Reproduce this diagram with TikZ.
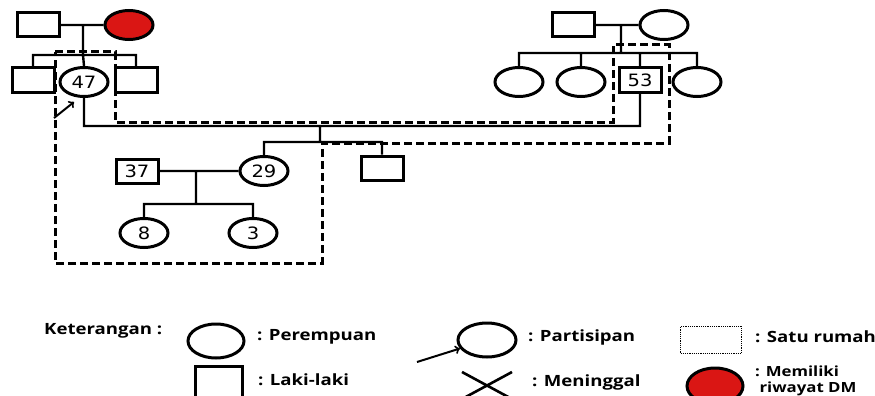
\documentclass[tikz,border=0pt]{standalone}
\usepackage{fontspec}
\newfontfamily\numfont[FakeStretch=1.15]{DejaVu Sans}
\newfontfamily\legfont[FakeStretch=1.2]{Open Sans}
\usepackage{tikz}
\usetikzlibrary{arrows,shapes.geometric}
\definecolor{dmred}{RGB}{218,22,20}

\begin{document}
\begin{tikzpicture}[x=1pt,y=-1pt]
 \tikzstyle{every node}=[font=\numfont\fontsize{17}{17}\selectfont,inner sep=0pt]
 \tikzstyle{man}=[draw,line width=3pt,rectangle,minimum width=42pt,minimum height=24pt]
 \tikzstyle{woman}=[draw,line width=3pt,ellipse,minimum width=48pt,minimum height=29pt]
 \tikzstyle{dm}=[woman,fill=dmred]
 \tikzstyle{line}=[draw,line width=2.4pt]
 \tikzstyle{house}=[draw,line width=3pt,dash pattern=on 8pt off 4pt]
 \tikzstyle{legend}=[font=\legfont\bfseries\fontsize{15.5}{17}\selectfont,anchor=west,align=left]
 \useasboundingbox[fill=white] (0,0) rectangle (875,396);
 % left grandparents
 \node[man]   (gf1) at (38,25)  {};
 \node[dm]    (gm1) at (129,25) {};
 \coordinate  (k1)  at (83,25);
 \coordinate  (s1)  at (83,55);
 \node[man]   (u1)  at (33,80)  {};
 \node[woman] (p47) at (84,82)  {47};
 \node[man]   (u2)  at (136,80) {};
 % right grandparents
 \node[man]   (gf2) at (573,25) {};
 \node[woman] (gm2) at (664,25) {};
 \coordinate  (k2)  at (621,25);
 \coordinate  (s2)  at (621,53);
 \node[woman] (t1)  at (519,82)  {};
 \node[woman] (t2)  at (581,82)  {};
 \node[man]   (p53) at (640,80)  {53};
 \node[woman] (t4)  at (697,82)  {};
 % children and grandchildren
 \coordinate  (cp)  at (320,126);
 \coordinate  (cc)  at (320,142);
 \node[woman] (p29) at (264,171) {29};
 \node[man]   (son) at (382,168) {};
 \node[man]   (h37) at (137,171) {37};
 \coordinate  (k3)  at (196,171);
 \coordinate  (s3)  at (196,204);
 \node[woman] (g8)  at (144,233) {8};
 \node[woman] (g3)  at (253,233) {3};
 \coordinate  (a1)  at (54,118);
 \coordinate  (a1h) at (74,102);

 \path[line]
 (gf1) -- (gm1)
 (k1) -- (s1)
 (u1.north) |- (s1) -| (u2.north)
 (p47.north) -- (s1)
 (gf2) -- (gm2)
 (k2) -- (s2)
 (t1.north) |- (s2) -| (t4.north)
 (t2.north) -- (t2.north |- s2)
 (p53.north) -- (p53.north |- s2)
 (p47.south) |- (cp) -| (p53.south)
 (cp) -- (cc)
 (p29.north) |- (cc) -| (son.north)
 (h37) -- (p29)
 (k3) -- (s3)
 (g8.north) |- (s3) -| (g3.north)
 ;
 \draw[line width=2pt,->] (a1) -- (a1h);
 % one household
 \path[house]
 (55,52) -- (115,52) -- (115,122) -- (613,122) -- (613,45) -- (669,45)
 -- (669,143) -- (322,143) -- (322,263) -- (55,263) -- cycle
 ;

 % legend
 \node[legend] (ket) at (44,331) {Keterangan :};
 \node[woman,minimum width=56pt,minimum height=34pt] (lw) at (216,341) {};
 \node[legend] (lwt) at (257,337) {: Perempuan};
 \node[man,minimum width=47pt,minimum height=32pt] (lm) at (219,382) {};
 \node[legend] (lmt) at (258,380) {: Laki-laki};
 \node[woman,minimum width=58pt,minimum height=34pt] (lp) at (487,340) {};
 \coordinate (la) at (417,362);
 \draw[line width=2pt,->] (la) -- (lp);
 \node[legend] (lpt) at (528,337) {: Partisipan};
 \coordinate (x1) at (462,372);
 \coordinate (x2) at (512,372);
 \coordinate (x3) at (462,399);
 \coordinate (x4) at (512,399);
 \draw[line width=2.6pt] (x1) -- (x4) (x2) -- (x3);
 \node[legend] (lxt) at (532,382) {: Meninggal};
 \node[draw,densely dotted,line width=1.2pt,minimum width=61pt,minimum height=27pt] (lh) at (711,340) {};
 \node[legend] (lht) at (755,337) {: Satu rumah};
 \node[dm,minimum width=56pt,minimum height=36pt] (ld) at (715,386) {};
 \node[legend,font=\legfont\bfseries\fontsize{14}{16}\selectfont] (ldt) at (755,381) {: Memiliki\\ \ riwayat DM};
\end{tikzpicture}
\end{document}
